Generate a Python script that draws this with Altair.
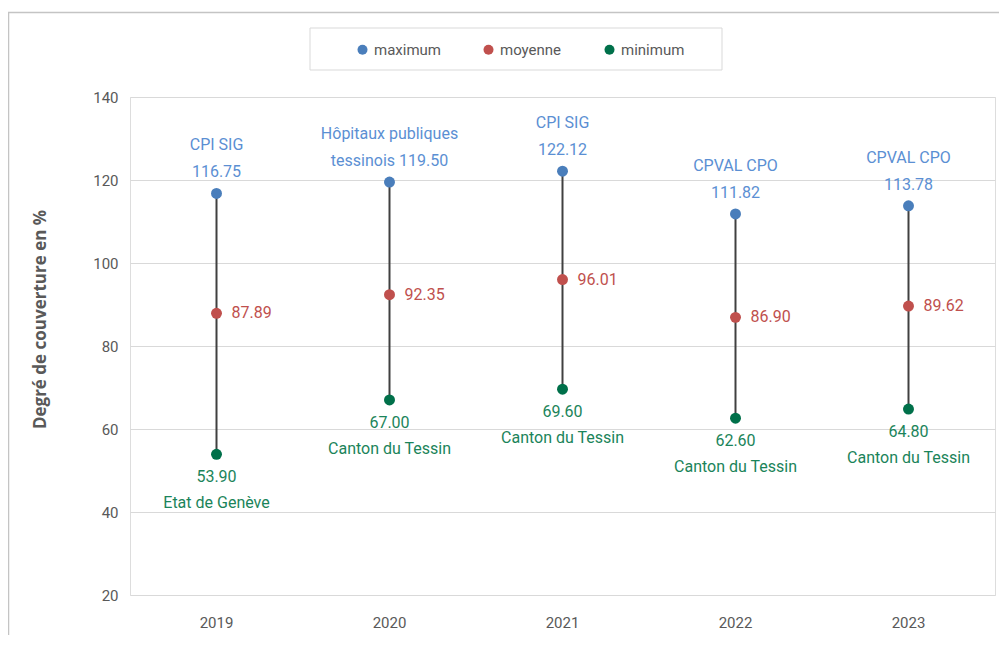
import altair as alt
import pandas as pd

# ---- data ----
years = ["2019", "2020", "2021", "2022", "2023"]
max_values = [116.75, 119.50, 122.12, 111.82, 113.78]
mean_values = [87.89, 92.35, 96.01, 86.90, 89.62]
min_values = [53.90, 67.00, 69.60, 62.60, 64.80]
max_names = ["CPI SIG", "Hôpitaux publiques\ntessinois", "CPI SIG", "CPVAL CPO", "CPVAL CPO"]
min_names = ["Etat de Genève", "Canton du Tessin", "Canton du Tessin", "Canton du Tessin", "Canton du Tessin"]
series = ["maximum", "moyenne", "minimum"]
y_ticks = [20, 40, 60, 80, 100, 120, 140]
y_title = "Degré de couverture en %"

# ---- styles ----
FONT = "Roboto"
BLUE, RED, GREEN = "#4a7ebb", "#c0504d", "#00704a"
BLUE_TXT, RED_TXT, GREEN_TXT = "#5b8fd3", "#c0504d", "#1b845a"
GRAY = "#595959"


def max_label(name, v):
    lines = name.split("\n")
    if len(lines) > 1:
        lines[-1] = lines[-1] + " " + f"{v:.2f}"
    else:
        lines.append(f"{v:.2f}")
    return "\n".join(lines)


wide = pd.DataFrame({
    "year": years,
    "max": max_values,
    "mean": mean_values,
    "min": min_values,
    "max_label": [max_label(n, v) for n, v in zip(max_names, max_values)],
    "mean_label": [f"{v:.2f}" for v in mean_values],
    "min_label": [f"{v:.2f}\n{n}" for n, v in zip(min_names, min_values)],
})

long = pd.concat([
    pd.DataFrame({"year": years, "value": max_values, "series": "maximum"}),
    pd.DataFrame({"year": years, "value": mean_values, "series": "moyenne"}),
    pd.DataFrame({"year": years, "value": min_values, "series": "minimum"}),
], ignore_index=True)

y_axis = alt.Axis(
    values=y_ticks, title=y_title, grid=True, gridColor="#d9d9d9", gridWidth=1,
    domain=False, ticks=False, tickSize=0, labelPadding=12,
    labelFont=FONT, labelFontSize=15, labelColor=GRAY,
    titleFont="Open Sans", titleFontSize=17, titleFontWeight="bold", titleColor=GRAY,
    titleAngle=270, titleX=-90, titleY=222, titleAlign="center", titleBaseline="middle",
)
y_scale = alt.Scale(domain=[20, 140], nice=False, zero=False)


def Y(field):
    return alt.Y(f"{field}:Q", scale=y_scale, axis=y_axis)


X = alt.X("year:O", sort=years, axis=alt.Axis(
    title=None, labelAngle=0, domain=False, ticks=False, tickSize=0, grid=False,
    labelPadding=20, labelFont=FONT, labelFontSize=15, labelColor=GRAY))

frame = alt.Chart(alt.Data(values=[{}])).mark_rect(
    filled=False, stroke="#c4c4c4", strokeWidth=1.5
).encode(x=alt.value(-121.5), x2=alt.value(1100), y=alt.value(-84.5), y2=alt.value(800))

legend_box = alt.Chart(alt.Data(values=[{}])).mark_rect(
    filled=False, stroke="#d9d9d9", strokeWidth=1
).encode(x=alt.value(180), x2=alt.value(592), y=alt.value(-69), y2=alt.value(-27))

rules = alt.Chart(wide).mark_rule(color="#404040", strokeWidth=2).encode(
    x=X, y=Y("min"), y2="max:Q")

points = alt.Chart(long).mark_point(filled=True, size=120, opacity=1).encode(
    x=X, y=Y("value"),
    color=alt.Color("series:N", scale=alt.Scale(domain=series, range=[BLUE, RED, GREEN]),
                    legend=alt.Legend(
                        orient="none", legendX=225, legendY=-55, direction="horizontal",
                        title=None, symbolType="circle", symbolSize=100,
                        labelFont=FONT, labelFontSize=15, labelColor=GRAY,
                        columnPadding=40, labelOffset=4, padding=0)),
)

max_text = alt.Chart(wide).mark_text(
    font=FONT, fontSize=16, color=BLUE_TXT, align="center", baseline="bottom",
    dy=-40, lineBreak="\n", lineHeight=27
).encode(x=X, y=Y("max"), text="max_label:N")

mean_text = alt.Chart(wide).mark_text(
    font=FONT, fontSize=16, color=RED_TXT, align="left", baseline="middle", dx=15
).encode(x=X, y=Y("mean"), text="mean_label:N")

min_text = alt.Chart(wide).mark_text(
    font=FONT, fontSize=16, color=GREEN_TXT, align="center", baseline="top",
    dy=15, lineBreak="\n", lineHeight=26
).encode(x=X, y=Y("min"), text="min_label:N")

chart = alt.layer(frame, legend_box, rules, points, max_text, mean_text, min_text).properties(
    width=865, height=498,
    autosize=alt.AutoSizeParams(type="none"),
    padding={"left": 122, "top": 89, "right": 4, "bottom": 40},
).configure_view(stroke=None).configure(background="white")

chart.save("out.html", embed_options={"renderer": "svg", "actions": False})
